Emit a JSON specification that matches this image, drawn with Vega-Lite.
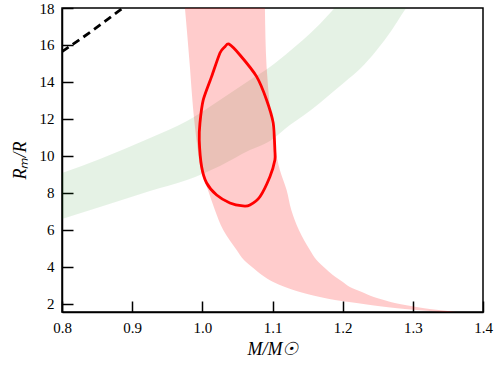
{
  "$schema": "https://vega.github.io/schema/vega-lite/v6.json",
  "width": 421,
  "height": 304,
  "autosize": {"type": "none"},
  "padding": {"left": 62, "top": 8, "right": 14, "bottom": 53},
  "background": "white",
  "datasets": {
    "green": [
      {"M": 0.8, "lo": 6.59, "hi": 9.08},
      {"M": 0.8541, "lo": 7.24, "hi": 9.84},
      {"M": 0.9254, "lo": 8.11, "hi": 10.97},
      {"M": 0.9781, "lo": 8.7, "hi": 11.89},
      {"M": 1.0251, "lo": 9.46, "hi": 13.03},
      {"M": 1.0678, "lo": 10.32, "hi": 14.11},
      {"M": 1.0963, "lo": 10.81, "hi": 14.81},
      {"M": 1.1248, "lo": 11.68, "hi": 15.68},
      {"M": 1.1433, "lo": 12.16, "hi": 16.27},
      {"M": 1.1675, "lo": 12.86, "hi": 17.14},
      {"M": 1.186, "lo": 13.46, "hi": 17.89},
      {"M": 1.2031, "lo": 14.0, "hi": 18.6},
      {"M": 1.2245, "lo": 14.7, "hi": 19.5},
      {"M": 1.2487, "lo": 15.73, "hi": 20.5},
      {"M": 1.2701, "lo": 16.81, "hi": 21.5},
      {"M": 1.2886, "lo": 17.89, "hi": 22.5},
      {"M": 1.3029, "lo": 18.6, "hi": 23.0}
    ],
    "pink": [
      {"R": 18.0, "left": 0.9752, "right": 1.0892},
      {"R": 14.81, "left": 0.9823, "right": 1.0916},
      {"R": 12.65, "left": 0.9866, "right": 1.0963},
      {"R": 11.57, "left": 0.9895, "right": 1.0991},
      {"R": 10.49, "left": 0.993, "right": 1.1034},
      {"R": 9.24, "left": 0.998, "right": 1.1105},
      {"R": 8.16, "left": 1.008, "right": 1.1201},
      {"R": 7.08, "left": 1.0179, "right": 1.1268},
      {"R": 6.0, "left": 1.0298, "right": 1.1376},
      {"R": 4.92, "left": 1.0489, "right": 1.1533},
      {"R": 4.38, "left": 1.0593, "right": 1.1628},
      {"R": 3.95, "left": 1.0725, "right": 1.1746},
      {"R": 3.57, "left": 1.0849, "right": 1.186},
      {"R": 3.19, "left": 1.101, "right": 1.2003},
      {"R": 2.92, "left": 1.1177, "right": 1.2103},
      {"R": 2.65, "left": 1.139, "right": 1.2274},
      {"R": 2.38, "left": 1.1675, "right": 1.2444},
      {"R": 2.22, "left": 1.1889, "right": 1.2587},
      {"R": 2.05, "left": 1.2198, "right": 1.2744},
      {"R": 1.89, "left": 1.2501, "right": 1.2972},
      {"R": 1.73, "left": 1.2886, "right": 1.3242},
      {"R": 1.62, "left": 1.3242, "right": 1.3499},
      {"R": 1.51, "left": 1.3641, "right": 1.3741}
    ],
    "contour": [
      {"i": 0, "M": 1.0379, "R": 16.05},
      {"i": 1, "M": 1.0536, "R": 15.46},
      {"i": 2, "M": 1.0774, "R": 14.29},
      {"i": 3, "M": 1.0916, "R": 13.03},
      {"i": 4, "M": 1.101, "R": 11.78},
      {"i": 5, "M": 1.1034, "R": 10.32},
      {"i": 6, "M": 1.1034, "R": 9.78},
      {"i": 7, "M": 1.0963, "R": 8.88},
      {"i": 8, "M": 1.0821, "R": 7.8},
      {"i": 9, "M": 1.0678, "R": 7.35},
      {"i": 10, "M": 1.0578, "R": 7.3},
      {"i": 11, "M": 1.0393, "R": 7.46},
      {"i": 12, "M": 1.0204, "R": 7.89},
      {"i": 13, "M": 1.0061, "R": 8.54},
      {"i": 14, "M": 0.999, "R": 9.42},
      {"i": 15, "M": 0.9956, "R": 10.86},
      {"i": 16, "M": 0.9966, "R": 11.78},
      {"i": 17, "M": 1.0013, "R": 13.03},
      {"i": 18, "M": 1.0132, "R": 14.29},
      {"i": 19, "M": 1.0251, "R": 15.57},
      {"i": 20, "M": 1.0322, "R": 15.91}
    ],
    "dashed": [
      {"M": 0.8, "R": 15.64},
      {"M": 0.8446, "R": 16.81},
      {"M": 0.887, "R": 18.0},
      {"M": 0.89, "R": 18.08}
    ]
  },
  "layer": [
    {
      "data": {"name": "green"},
      "mark": {"type": "area", "color": "green", "opacity": 0.1, "clip": true, "interpolate": "monotone"},
      "encoding": {
        "x": {"field": "M", "type": "quantitative", "title": "M/M☉",
              "scale": {"domain": [0.8, 1.4], "nice": false, "zero": false},
              "axis": {"values": [0.8, 0.9, 1.0, 1.1, 1.2, 1.3, 1.4], "format": ".1f"}},
        "y": {"field": "lo", "type": "quantitative", "title": "Rₘ/R",
              "scale": {"domain": [1.567, 18], "nice": false, "zero": false},
              "axis": {"values": [2, 4, 6, 8, 10, 12, 14, 16, 18], "format": "d"}},
        "y2": {"field": "hi"}
      }
    },
    {
      "data": {"name": "pink"},
      "mark": {"type": "area", "orient": "horizontal", "color": "red", "opacity": 0.2, "clip": true, "interpolate": "monotone"},
      "encoding": {
        "y": {"field": "R", "type": "quantitative", "title": "Rₘ/R",
              "axis": {"values": [2, 4, 6, 8, 10, 12, 14, 16, 18], "format": "d"}},
        "x": {"field": "left", "type": "quantitative", "title": "M/M☉",
              "axis": {"values": [0.8, 0.9, 1.0, 1.1, 1.2, 1.3, 1.4], "format": ".1f"}},
        "x2": {"field": "right"}
      }
    },
    {
      "data": {"name": "contour"},
      "mark": {"type": "line", "color": "#ff0000", "strokeWidth": 2.8, "clip": true, "interpolate": "cardinal-closed", "tension": 0.3},
      "encoding": {
        "x": {"field": "M", "type": "quantitative", "title": "M/M☉",
              "axis": {"values": [0.8, 0.9, 1.0, 1.1, 1.2, 1.3, 1.4], "format": ".1f"}},
        "y": {"field": "R", "type": "quantitative", "title": "Rₘ/R",
              "axis": {"values": [2, 4, 6, 8, 10, 12, 14, 16, 18], "format": "d"}},
        "order": {"field": "i", "type": "quantitative"}
      }
    },
    {
      "data": {"name": "dashed"},
      "mark": {"type": "line", "color": "black", "strokeWidth": 2.8, "strokeDash": [8, 5], "clip": true, "interpolate": "monotone"},
      "encoding": {
        "x": {"field": "M", "type": "quantitative", "title": "M/M☉",
              "axis": {"values": [0.8, 0.9, 1.0, 1.1, 1.2, 1.3, 1.4], "format": ".1f"}},
        "y": {"field": "R", "type": "quantitative", "title": "Rₘ/R",
              "axis": {"values": [2, 4, 6, 8, 10, 12, 14, 16, 18], "format": "d"}}
      }
    }
  ],
  "config": {
    "view": {"stroke": "black", "strokeWidth": 1.5},
    "axis": {
      "grid": false,
      "domainColor": "black",
      "domainWidth": 1.5,
      "tickColor": "black",
      "tickWidth": 1.5,
      "tickSize": -11,
      "labelPadding": 19,
      "labelOverlap": false,
      "labelFlush": false,
      "labelBound": false,
      "labelFont": "Liberation Serif",
      "labelFontSize": 15,
      "labelColor": "black",
      "titleFont": "Liberation Serif",
      "titleFontSize": 18,
      "titleFontWeight": "normal",
      "titleFontStyle": "italic",
      "titleColor": "black"
    },
    "axisX": {"titlePadding": 5},
    "axisY": {"titlePadding": 10}
  }
}
